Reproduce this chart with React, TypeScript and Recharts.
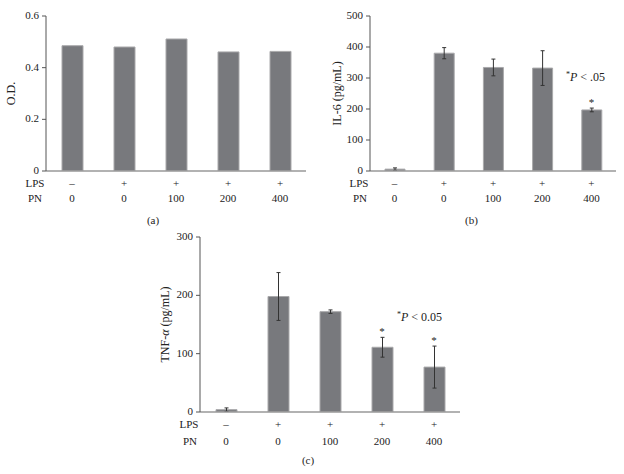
import React from 'react';
import { BarChart, Bar, XAxis, YAxis, ErrorBar, ReferenceDot, Label } from 'recharts';

const groups = ['g1', 'g2', 'g3', 'g4', 'g5'];
const lpsLabels = ['–', '+', '+', '+', '+'];
const pnLabels = ['0', '0', '100', '200', '400'];

const odValues = [0.485, 0.48, 0.511, 0.461, 0.463];
const odTicks = [0, 0.2, 0.4, 0.6];

const il6Values = [6, 380, 334, 332, 197];
const il6Errors = [4, 18, 27, 56, 6];
const il6Stars = [false, false, false, false, true];
const il6Ticks = [0, 100, 200, 300, 400, 500];

const tnfValues = [4, 198, 172, 111, 77];
const tnfErrors = [3, 41, 3, 17, 36];
const tnfStars = [false, false, false, true, true];
const tnfTicks = [0, 100, 200, 300];

const FONT = '"Liberation Serif", "DejaVu Serif", serif';
const BAR_FILL = '#78797d';
const BAR_STROKE = '#a9a9ab';
const TEXT = '#222';

const odData = groups.map((g, i) => ({ g, v: odValues[i] }));
const il6Data = groups.map((g, i) => ({ g, v: il6Values[i], e: il6Errors[i], top: il6Values[i] + il6Errors[i], star: il6Stars[i] }));
const tnfData = groups.map((g, i) => ({ g, v: tnfValues[i], e: tnfErrors[i], top: tnfValues[i] + tnfErrors[i], star: tnfStars[i] }));

const makeTick = (d1: number, d2: number) => (props: any) => {
  const { x, y, payload } = props;
  const i = groups.indexOf(payload.value);
  return (
    <g>
      <text x={x} y={y + d1} textAnchor="middle" dominantBaseline="central" fontSize={11} fontFamily={FONT} fill={TEXT}>
        {lpsLabels[i]}
      </text>
      <text x={x} y={y + d2} textAnchor="middle" dominantBaseline="central" fontSize={11} fontFamily={FONT} fill={TEXT}>
        {pnLabels[i]}
      </text>
    </g>
  );
};

const makeYLabel = (content: React.ReactNode, offset: number) => (props: any) => {
  const vb = props.viewBox || { x: 0, y: 0, width: 0, height: 0 };
  const cx = vb.x + offset;
  const cy = vb.y + vb.height / 2;
  return (
    <text
      x={cx}
      y={cy}
      transform={`rotate(-90 ${cx} ${cy})`}
      textAnchor="middle"
      dominantBaseline="central"
      fontSize={12}
      fontFamily={FONT}
      fill={TEXT}
    >
      {content}
    </text>
  );
};

const starLabel = (props: any) => {
  const vb = props.viewBox || { x: 0, y: 0, width: 0, height: 0 };
  const cx = vb.x + (vb.width || 0) / 2;
  const cy = vb.y + (vb.height || 0) / 2;
  return (
    <text x={cx} y={cy - 2} textAnchor="middle" fontSize={11} fontFamily={FONT} fill={TEXT}>
      *
    </text>
  );
};

const yAxisCommon = {
  axisLine: { stroke: '#555', strokeWidth: 1 },
  tickLine: { stroke: '#555', strokeWidth: 1 },
  tickSize: 4,
  tickMargin: 3,
  tick: { fontSize: 11, fontFamily: FONT, fill: TEXT, dy: -1 },
};

const xAxisCommon = {
  dataKey: 'g',
  axisLine: { stroke: '#999', strokeWidth: 1.5 },
  tickLine: false,
  tickSize: 0,
  tickMargin: 0,
  interval: 0 as const,
};

const overlayText = { fontSize: 11, fontFamily: FONT, fill: TEXT } as const;

export default function App() {
  return (
    <div style={{ position: 'absolute', left: 0, top: 0, width: 624, height: 474, background: '#fff', overflow: 'hidden' }}>
      {/* Panel (a) */}
      <div style={{ position: 'absolute', left: 0, top: 0 }}>
        <BarChart width={320} height={230} data={odData} margin={{ top: 16, right: 14, bottom: 0, left: 0 }}>
          <XAxis {...xAxisCommon} height={59} tick={makeTick(11.5, 27)} />
          <YAxis {...yAxisCommon} width={46} domain={[0, 0.6]} ticks={odTicks} allowDataOverflow>
            <Label content={makeYLabel('O.D.', 11)} />
          </YAxis>
          <Bar dataKey="v" fill={BAR_FILL} stroke={BAR_STROKE} strokeWidth={1} barSize={21} isAnimationActive={false} />
        </BarChart>
      </div>

      {/* Panel (b) */}
      <div style={{ position: 'absolute', left: 310, top: 0 }}>
        <BarChart width={314} height={230} data={il6Data} margin={{ top: 16, right: 8, bottom: 0, left: 0 }}>
          <XAxis {...xAxisCommon} height={59} tick={makeTick(11.5, 27)} />
          <YAxis {...yAxisCommon} width={60} domain={[0, 500]} ticks={il6Ticks} allowDataOverflow>
            <Label content={makeYLabel('IL-6 (pg/mL)', 27)} />
          </YAxis>
          <Bar dataKey="v" fill={BAR_FILL} stroke={BAR_STROKE} strokeWidth={1} barSize={20} isAnimationActive={false}>
            <ErrorBar dataKey="e" width={2} stroke="#333" strokeWidth={1} direction="y" isAnimationActive={false} />
          </Bar>
          {il6Data.filter((d) => d.star).map((d) => (
            <ReferenceDot key={d.g} x={d.g} y={d.top} r={0} stroke="none" fill="none" label={starLabel} />
          ))}
        </BarChart>
      </div>

      {/* Panel (c) */}
      <div style={{ position: 'absolute', left: 150, top: 225 }}>
        <BarChart width={330} height={249} data={tnfData} margin={{ top: 12, right: 20, bottom: 0, left: 0 }}>
          <XAxis {...xAxisCommon} height={62} tick={makeTick(11.7, 28.5)} />
          <YAxis {...yAxisCommon} width={50} domain={[0, 300]} ticks={tnfTicks} allowDataOverflow>
            <Label
              content={makeYLabel(
                <>
                  TNF-<tspan fontStyle="italic">α</tspan> (pg/mL)
                </>,
                15
              )}
            />
          </YAxis>
          <Bar dataKey="v" fill={BAR_FILL} stroke={BAR_STROKE} strokeWidth={1} barSize={21} isAnimationActive={false}>
            <ErrorBar dataKey="e" width={2} stroke="#333" strokeWidth={1} direction="y" isAnimationActive={false} />
          </Bar>
          {tnfData.filter((d) => d.star).map((d) => (
            <ReferenceDot key={d.g} x={d.g} y={d.top} r={0} stroke="none" fill="none" label={starLabel} />
          ))}
        </BarChart>
      </div>

      {/* Overlay text */}
      <svg width={624} height={474} style={{ position: 'absolute', left: 0, top: 0, pointerEvents: 'none' }}>
        <text x={35} y={182.5} textAnchor="middle" dominantBaseline="central" {...overlayText}>LPS</text>
        <text x={35} y={198} textAnchor="middle" dominantBaseline="central" {...overlayText}>PN</text>
        <text x={153} y={220} textAnchor="middle" dominantBaseline="central" {...overlayText}>(a)</text>

        <text x={359} y={182.5} textAnchor="middle" dominantBaseline="central" {...overlayText}>LPS</text>
        <text x={360} y={198} textAnchor="middle" dominantBaseline="central" {...overlayText}>PN</text>
        <text x={471.5} y={220} textAnchor="middle" dominantBaseline="central" {...overlayText}>(b)</text>
        <text x={566} y={81} {...overlayText} fontSize={12}>
          <tspan fontSize={8} dy={-4}>*</tspan>
          <tspan dy={4} fontStyle="italic">P</tspan>
          <tspan> &lt; .05</tspan>
        </text>

        <text x={189} y={423.7} textAnchor="middle" dominantBaseline="central" {...overlayText}>LPS</text>
        <text x={190} y={440.5} textAnchor="middle" dominantBaseline="central" {...overlayText}>PN</text>
        <text x={308} y={460} textAnchor="middle" dominantBaseline="central" {...overlayText}>(c)</text>
        <text x={397} y={321} {...overlayText} fontSize={12}>
          <tspan fontSize={8} dy={-4}>*</tspan>
          <tspan dy={4} fontStyle="italic">P</tspan>
          <tspan> &lt; 0.05</tspan>
        </text>
      </svg>
    </div>
  );
}
